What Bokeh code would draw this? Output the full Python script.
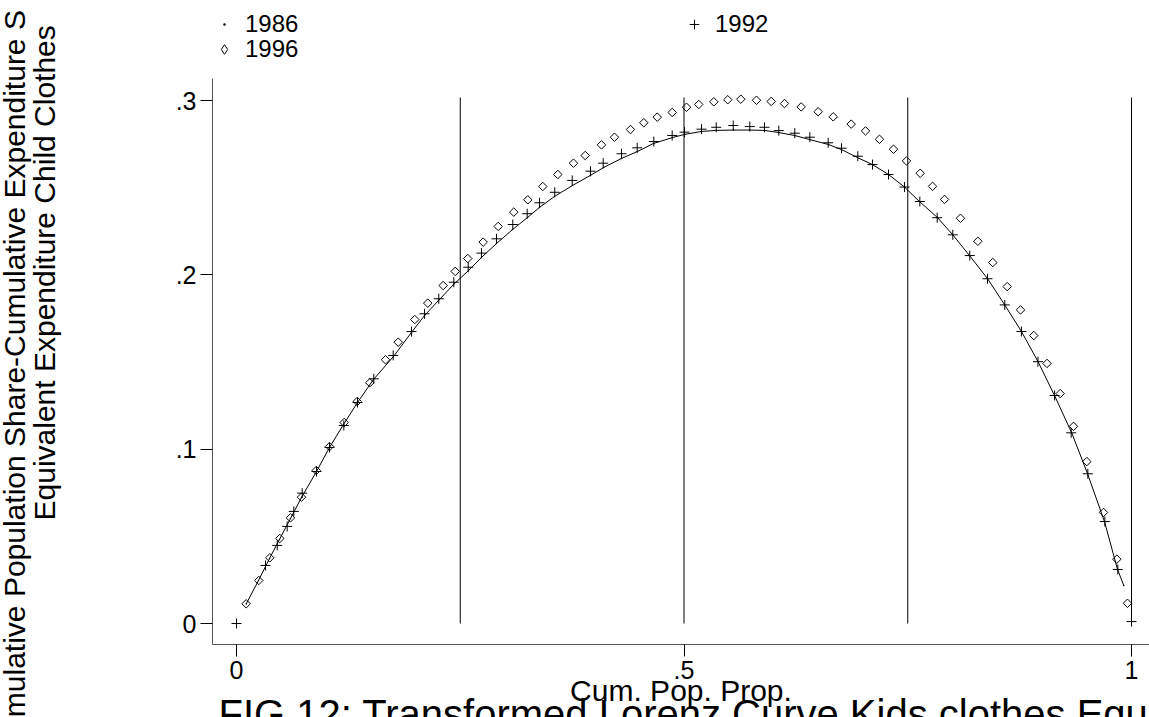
from bokeh.plotting import figure
from bokeh.models import (Range1d, FixedTicker, CustomJSTickFormatter, Legend,
                          LegendItem, Label, LinearAxis)
from bokeh.embed import file_html
from bokeh.resources import INLINE
import math

# ---------------- data ----------------
x1986 = [0.0108, 0.0246, 0.0369, 0.0480, 0.0603, 0.0726, 0.0894, 0.1039, 0.1196, 0.1352,
         0.1531, 0.1754, 0.1955, 0.2101, 0.2257, 0.2425, 0.2592, 0.2737, 0.2905, 0.3084,
         0.3251, 0.3385, 0.3553, 0.3754, 0.3955, 0.4101, 0.4302, 0.4480, 0.4659, 0.4872,
         0.5006, 0.5196, 0.5363, 0.5553, 0.5732, 0.5899, 0.6056, 0.6235, 0.6402, 0.6615,
         0.6760, 0.6939, 0.7106, 0.7285, 0.7464, 0.7631, 0.7832, 0.8000, 0.8190, 0.8391,
         0.8581, 0.8771, 0.8955, 0.9140, 0.9330, 0.9508, 0.9698, 0.9844, 0.9914]
y1986 = [0.0112, 0.0247, 0.0373, 0.0482, 0.0602, 0.0723, 0.0872, 0.1010, 0.1142, 0.1268,
         0.1400, 0.1532, 0.1670, 0.1767, 0.1853, 0.1945, 0.2025, 0.2100, 0.2180, 0.2260,
         0.2329, 0.2387, 0.2450, 0.2513, 0.2571, 0.2616, 0.2668, 0.2708, 0.2754, 0.2788,
         0.2806, 0.2823, 0.2829, 0.2831, 0.2831, 0.2829, 0.2817, 0.2800, 0.2777, 0.2748,
         0.2719, 0.2673, 0.2633, 0.2576, 0.2504, 0.2421, 0.2329, 0.2232, 0.2111, 0.1979,
         0.1830, 0.1675, 0.1503, 0.1308, 0.1096, 0.0861, 0.0585, 0.0310, 0.0218]

x1992 = [0.0, 0.0324, 0.0455, 0.0566, 0.0640, 0.0734, 0.0894, 0.1039, 0.1199, 0.1352,
         0.1534, 0.1751, 0.1955, 0.2101, 0.2260, 0.2428, 0.2589, 0.2737, 0.2905, 0.3087,
         0.3248, 0.3385, 0.3556, 0.3751, 0.3955, 0.4097, 0.4302, 0.4477, 0.4663, 0.4868,
         0.5006, 0.5196, 0.5360, 0.5550, 0.5735, 0.5899, 0.6059, 0.6238, 0.6406, 0.6611,
         0.6760, 0.6942, 0.7106, 0.7285, 0.7464, 0.7635, 0.7829, 0.8003, 0.8193, 0.8391,
         0.8584, 0.8770, 0.8955, 0.9141, 0.9326, 0.9512, 0.9702, 0.9847, 1.0]
y1992 = [0.0, 0.0333, 0.0448, 0.0557, 0.0643, 0.0748, 0.0872, 0.1010, 0.1136, 0.1268,
         0.1404, 0.1538, 0.1675, 0.1777, 0.1863, 0.1958, 0.2044, 0.2125, 0.2207, 0.2289,
         0.2351, 0.2414, 0.2474, 0.2542, 0.2595, 0.2641, 0.2695, 0.2729, 0.2765, 0.2800,
         0.2819, 0.2836, 0.2847, 0.2857, 0.2851, 0.2847, 0.2828, 0.2813, 0.2790, 0.2758,
         0.2727, 0.2681, 0.2633, 0.2576, 0.2504, 0.2421, 0.2328, 0.2230, 0.2111, 0.1978,
         0.1828, 0.1675, 0.1502, 0.1308, 0.1094, 0.0859, 0.0585, 0.0310, 0.0011]

x1996 = [0.0108, 0.0249, 0.0372, 0.0484, 0.0603, 0.0726, 0.0891, 0.1039, 0.1203, 0.1349,
         0.1489, 0.1665, 0.1807, 0.1992, 0.2137, 0.2309, 0.2444, 0.2584, 0.2756, 0.2924,
         0.3098, 0.3255, 0.3422, 0.3590, 0.3765, 0.3896, 0.4078, 0.4223, 0.4402, 0.4551,
         0.4701, 0.4868, 0.5028, 0.5165, 0.5333, 0.5489, 0.5635, 0.5810, 0.5974, 0.6123,
         0.6309, 0.6499, 0.6667, 0.6868, 0.7028, 0.7184, 0.7341, 0.7486, 0.7639, 0.7777,
         0.7911, 0.8089, 0.8283, 0.8450, 0.8611, 0.8760, 0.8908, 0.9056, 0.9203, 0.9352,
         0.9501, 0.9687, 0.9836, 0.9955]
y1996 = [0.0113, 0.0247, 0.0377, 0.0488, 0.0606, 0.0725, 0.0878, 0.1015, 0.1153, 0.1274,
         0.1381, 0.1513, 0.1614, 0.1744, 0.1838, 0.1939, 0.2020, 0.2094, 0.2188, 0.2278,
         0.2360, 0.2431, 0.2507, 0.2576, 0.2641, 0.2685, 0.2746, 0.2790, 0.2834, 0.2873,
         0.2905, 0.2932, 0.2962, 0.2978, 0.2993, 0.3005, 0.3008, 0.3002, 0.2995, 0.2983,
         0.2964, 0.2936, 0.2907, 0.2865, 0.2826, 0.2778, 0.2721, 0.2654, 0.2583, 0.2508,
         0.2433, 0.2325, 0.2193, 0.2071, 0.1933, 0.1799, 0.1652, 0.1492, 0.1319, 0.1131,
         0.0929, 0.0637, 0.0369, 0.0116]

ref_x = [0.25, 0.5, 0.75, 1.0]
ref_y_top = 0.3018

x_ticks = [0, 0.5, 1]
y_ticks = [0, 0.1, 0.2, 0.3]

series_labels = ["1986", "1992", "1996"]
x_title = "Cum. Pop. Prop."
y_title_1 = "Cumulative Population Share-Cumulative Expenditure S"
y_title_2 = "Equivalent Expenditure Child Clothes"
fig_title = "FIG 12: Transformed Lorenz Curve Kids clothes Equivalent Expenditure"

# ---------------- figure ----------------
FONT = "Liberation Sans"
W, H = 1149, 717
X_AXIS_AT = -0.01205      # y where the x axis line sits
Y_AXIS_AT = -0.0268       # x where the y axis line sits
X_END, Y_END = 1.0201, 0.3127

p = figure(width=W, height=H, output_backend="svg", toolbar_location=None,
           x_range=Range1d(-0.26369, 1.02011), y_range=Range1d(-0.05393, 0.35743),
           x_axis_location=None, y_axis_location=None,
           min_border=0, min_border_left=0, min_border_right=0,
           min_border_top=0, min_border_bottom=0)
p.outline_line_color = None
p.grid.visible = False
p.background_fill_color = "white"
p.border_fill_color = "white"

# reference lines
p.segment(x0=ref_x, y0=[0] * len(ref_x), x1=ref_x, y1=[ref_y_top] * len(ref_x),
          line_color="black", line_width=1)

# series
p.line(x1986, y1986, line_color="black", line_width=1)
r86 = p.scatter(x1986, y1986, marker="dot", size=6, line_color="black",
                fill_color="black")
r92 = p.scatter(x1992, y1992, marker="cross", size=10, line_color="black",
                line_width=1)
p.scatter(x1996, y1996, marker="square", angle=math.pi / 4, size=6,
          line_color="black", fill_color=None, line_width=1)
# legend key for 1996: zero-size diamonds in the plot, sized by the legend box
r96_key = p.scatter(x1996, y1996, marker="diamond", size=0, line_color="black",
                    fill_color=None, line_width=1)

# axes (fixed inside the frame so that every text can live on the canvas)
fmt = CustomJSTickFormatter(code="""
    if (Math.abs(tick) < 1e-9) return "0";
    if (Math.abs(tick - 1) < 1e-9) return "1";
    return tick.toFixed(1).replace(/^0/, "");
""")
xaxis = LinearAxis(fixed_location=X_AXIS_AT, bounds=(Y_AXIS_AT, X_END),
                   ticker=FixedTicker(ticks=x_ticks), formatter=fmt)
yaxis = LinearAxis(fixed_location=Y_AXIS_AT, bounds=(X_AXIS_AT, Y_END),
                   ticker=FixedTicker(ticks=y_ticks), formatter=fmt)
for ax in (xaxis, yaxis):
    ax.minor_tick_line_color = None
    ax.major_tick_in = 0
    ax.major_tick_out = 12
    ax.major_tick_line_color = "black"
    ax.axis_line_color = "#555555"
    ax.major_label_text_font = FONT
    ax.major_label_text_font_size = "25px"
    ax.major_label_text_color = "black"
    ax.major_label_standoff = 4
xaxis.axis_label = x_title
xaxis.axis_label_text_font = FONT
xaxis.axis_label_text_font_size = "30px"
xaxis.axis_label_text_font_style = "normal"
xaxis.axis_label_text_color = "black"
xaxis.axis_label_standoff = -8
p.add_layout(xaxis, "below")
p.add_layout(yaxis, "left")

# y titles (screen units: origin bottom-left of the canvas)
p.add_layout(Label(x=14, y=H - 755, x_units="screen", y_units="screen",
                   text=y_title_1, angle=math.pi / 2, text_align="left",
                   text_baseline="alphabetic", text_font=FONT,
                   text_font_size="30px", text_color="black"))
p.add_layout(Label(x=44, y=H - 520, x_units="screen", y_units="screen",
                   text=y_title_2, angle=math.pi / 2, text_align="left",
                   text_baseline="alphabetic", text_font=FONT,
                   text_font_size="30px", text_color="black"))
# bottom caption
p.add_layout(Label(x=218, y=H - 713, x_units="screen", y_units="screen",
                   text=fig_title, text_align="left", text_baseline="alphabetic",
                   text_font=FONT, text_font_size="40px", text_color="black"))

# legends
common = dict(background_fill_alpha=0, border_line_alpha=0, padding=0, margin=0,
              spacing=0, glyph_width=24, glyph_height=26, label_standoff=9,
              label_height=27, label_text_font=FONT, label_text_font_size="24px",
              label_text_color="black", orientation="horizontal")
leg1 = Legend(items=[LegendItem(label=series_labels[0], renderers=[r86]),
                     LegendItem(label=series_labels[1], renderers=[r92])],
              location=(212, H - 38), label_width=437, **common)
leg2 = Legend(items=[LegendItem(label=series_labels[2], renderers=[r96_key])],
              location=(212, H - 63), **common)
p.add_layout(leg1)
p.add_layout(leg2)

open("out.html", "w").write(file_html(p, INLINE))
